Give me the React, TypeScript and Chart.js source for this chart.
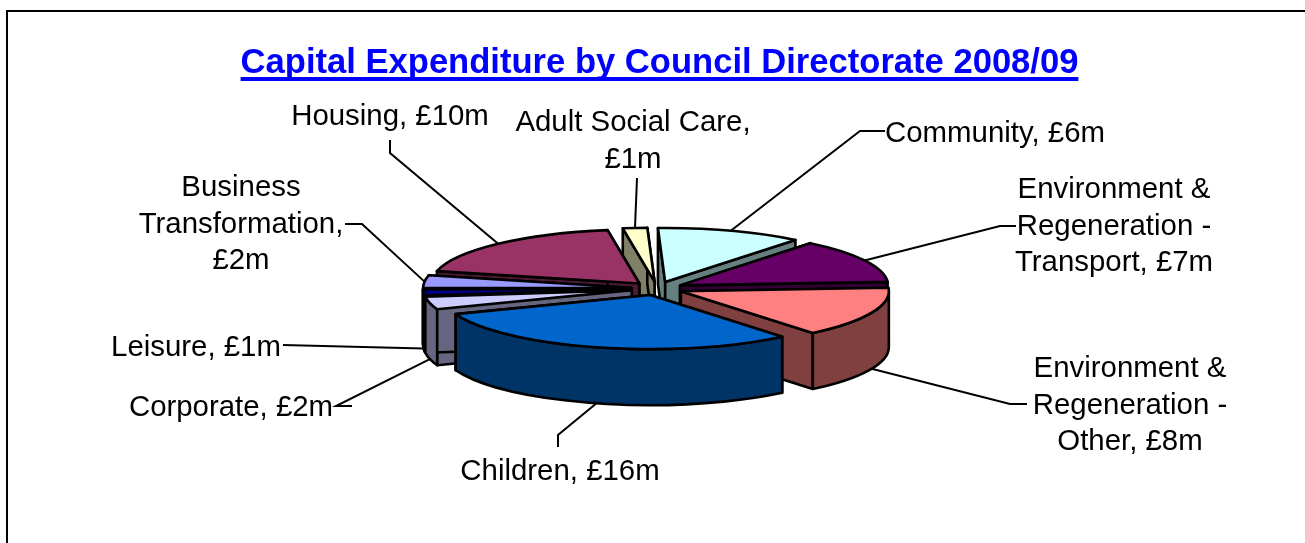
import React, { useEffect, useRef } from "react";
import { Chart, registerables } from "chart.js";

Chart.register(...registerables);

const titleText = "Capital Expenditure by Council Directorate 2008/09";
const categories = [
  "Community",
  "Environment & Regeneration - Transport",
  "Environment & Regeneration - Other",
  "Children",
  "Corporate",
  "Leisure",
  "Business Transformation",
  "Housing",
  "Adult Social Care",
];
const values = [6, 7, 8, 16, 2, 1, 2, 10, 1];
const topColors = ["#CCFFFF", "#660066", "#FF8080", "#0066CC", "#CCCCFF", "#000080", "#9999FF", "#993366", "#FFFFCC"];
const wallColors = ["#668080", "#330033", "#804040", "#003366", "#666680", "#000040", "#4D4D80", "#4D1A33", "#808066"];
const labelLines = [
  ["Community, £6m"],
  ["Environment &", "Regeneration -", "Transport, £7m"],
  ["Environment &", "Regeneration -", "Other, £8m"],
  ["Children, £16m"],
  ["Corporate, £2m"],
  ["Leisure, £1m"],
  ["Business", "Transformation,", "£2m"],
  ["Housing, £10m"],
  ["Adult Social Care,", "£1m"],
];
// label centre x, first-line centre y, and the elbow points of each leader line (label end first)
const labelX = [995, 1114, 1130, 560, 231, 196, 241, 390, 633];
const labelY = [134, 190, 369, 472, 408, 348, 188, 117, 123];
const leaderElbows: number[][][] = [
  [[885, 131], [860, 131]],
  [[1016, 226], [1000, 226]],
  [[1027, 404], [1010, 404]],
  [[558, 447], [558, 435]],
  [[352, 406], [336, 406]],
  [[283, 345]],
  [[345, 224], [362, 224]],
  [[390, 140], [390, 153]],
  [[637, 178]],
];

const PIE_X = 657;
const PIE_Y = 288.5;
const SQUASH = 0.26;
const DEPTH = 56;
const FONT = '"Liberation Sans", Arial, sans-serif';

function tipOf(arc: any) {
  const mid = (arc.startAngle + arc.endAngle) / 2;
  const d = (arc.options.offset || 0) / 2;
  return { x: PIE_X + Math.cos(mid) * d, y: PIE_Y + Math.sin(mid) * d * SQUASH, mid };
}

const pie3d = {
  id: "pie3d",
  beforeDraw(chart: any) {
    const ctx = chart.ctx;
    ctx.save();
    ctx.fillStyle = "#fff";
    ctx.fillRect(0, 0, chart.width, chart.height);
    ctx.strokeStyle = "#000";
    ctx.lineWidth = 2;
    ctx.strokeRect(7, 11, chart.width + 50, chart.height + 50);
    ctx.restore();
  },
  beforeDatasetsDraw(chart: any) {
    const ctx = chart.ctx;
    const arcs = chart.getDatasetMeta(0).data.map((arc: any, i: number) => ({ arc, i }));
    arcs.sort((a: any, b: any) => Math.sin(tipOf(a.arc).mid) - Math.sin(tipOf(b.arc).mid));
    ctx.save();
    ctx.strokeStyle = "#000";
    ctx.lineWidth = 2.6;
    ctx.lineJoin = "round";
    for (const { arc, i } of arcs) {
      const t = tipOf(arc);
      const R = arc.outerRadius;
      const ry = R * SQUASH;
      const s = arc.startAngle;
      const e = arc.endAngle;
      ctx.fillStyle = wallColors[i];
      for (const a of [s, e]) {
        const px = t.x + R * Math.cos(a);
        const py = t.y + ry * Math.sin(a);
        ctx.beginPath();
        ctx.moveTo(t.x, t.y);
        ctx.lineTo(px, py);
        ctx.lineTo(px, py + DEPTH);
        ctx.lineTo(t.x, t.y + DEPTH);
        ctx.closePath();
        ctx.fill();
        ctx.stroke();
      }
      const lo = Math.max(s, 0);
      const hi = Math.min(e, Math.PI);
      if (lo < hi) {
        ctx.beginPath();
        ctx.ellipse(t.x, t.y, R, ry, 0, lo, hi);
        ctx.ellipse(t.x, t.y + DEPTH, R, ry, 0, hi, lo, true);
        ctx.closePath();
        ctx.fill();
        ctx.stroke();
      }
      ctx.fillStyle = arc.options.backgroundColor;
      ctx.beginPath();
      ctx.moveTo(t.x, t.y);
      ctx.ellipse(t.x, t.y, R, ry, 0, s, e);
      ctx.closePath();
      ctx.fill();
      ctx.stroke();
    }
    ctx.restore();
    return false;
  },
  afterDraw(chart: any) {
    const ctx = chart.ctx;
    ctx.save();
    // title underline
    const tb = chart.titleBlock;
    ctx.font = `bold 34.6px ${FONT}`;
    const w = ctx.measureText(titleText).width;
    const cx = tb.left + tb.width / 2;
    ctx.fillStyle = "#0000FF";
    ctx.fillRect(cx - w / 2, 77, w, 4);
    // leader lines
    ctx.strokeStyle = "#000";
    ctx.lineWidth = 2;
    chart.getDatasetMeta(0).data.forEach((arc: any, i: number) => {
      const t = tipOf(arc);
      const ax = t.x + arc.outerRadius * Math.cos(t.mid);
      const lower = Math.sin(t.mid) > 0;
      const ay = t.y + arc.outerRadius * SQUASH * Math.sin(t.mid) + (lower ? DEPTH : 0);
      ctx.beginPath();
      leaderElbows[i].forEach((p, k) => (k ? ctx.lineTo(p[0], p[1]) : ctx.moveTo(p[0], p[1])));
      ctx.lineTo(ax, ay);
      ctx.stroke();
    });
    // data labels
    ctx.fillStyle = "#000";
    ctx.font = `29.4px ${FONT}`;
    ctx.textAlign = "center";
    ctx.textBaseline = "middle";
    labelLines.forEach((lines, i) => {
      lines.forEach((line, k) => ctx.fillText(line, labelX[i], labelY[i] + k * 36.5));
    });
    ctx.restore();
  },
};

export default function App() {
  const ref = useRef<HTMLCanvasElement>(null);
  useEffect(() => {
    if (!ref.current) return;
    const chart = new Chart(ref.current, {
      type: "pie",
      data: {
        labels: categories,
        datasets: [{ data: values, backgroundColor: topColors, borderWidth: 0, offset: 52, hoverOffset: 0 } as any],
      },
      options: {
        animation: false,
        responsive: false,
        rotation: -2,
        radius: 208,
        layout: { padding: { left: 14 } },
        plugins: {
          legend: { display: false },
          tooltip: { enabled: false },
          title: {
            display: true,
            text: titleText,
            color: "#0000FF",
            font: { family: FONT, size: 34.6, weight: "bold" },
            padding: { top: 43, bottom: 10 },
          },
        },
      } as any,
      plugins: [pie3d as any],
    });
    return () => chart.destroy();
  }, []);
  return (
    <canvas
      ref={ref}
      width={1305}
      height={543}
      style={{ position: "fixed", left: 0, top: 0, display: "block", width: 1305, height: 543 }}
    />
  );
}
